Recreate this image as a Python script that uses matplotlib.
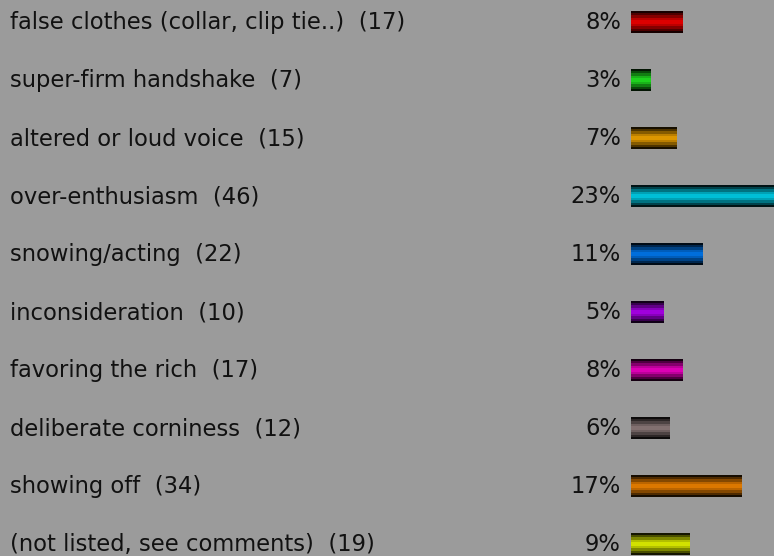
import numpy as np
import matplotlib.pyplot as plt
from matplotlib.colors import to_rgb

labels = [
    "false clothes (collar, clip tie..)",
    "super-firm handshake",
    "altered or loud voice",
    "over-enthusiasm",
    "snowing/acting",
    "inconsideration",
    "favoring the rich",
    "deliberate corniness",
    "showing off",
    "(not listed, see comments)",
]
counts = [17, 7, 15, 46, 22, 10, 17, 12, 34, 19]
percents = [8, 3, 7, 23, 11, 5, 8, 6, 17, 9]
colors = ["#dc0000", "#1ed21e", "#dc9600", "#00bed7", "#006edc",
          "#a000dc", "#dc00b4", "#827070", "#dc7800", "#d2e100"]

BG = "#9b9b9b"
W, H = 774, 556
fig = plt.figure(figsize=(W / 100, H / 100), dpi=100, facecolor=BG)

# bars live in an axes starting at x=631px; 6.5 px per percent
x0 = 631
ax = fig.add_axes([x0 / W, 0, 1 - x0 / W, 1])
ax.set_facecolor(BG)
ax.axis("off")
ax.set_xlim(0, (W - x0) / 6.5)
row = 58.0
ax.set_ylim((H - 22.5) / row, -22.5 / row)

# banded shading: dark edges, bright middle
profile = np.array([0.1, 0.35, 0.6, 0.85, 1.0, 1.0, 0.85, 0.6, 0.35, 0.1])
bar_h = 21.5 / row

for i, (pct, c) in enumerate(zip(percents, colors)):
    rgb = np.array(to_rgb(c))
    img = profile[:, None, None] * rgb[None, None, :]
    ax.imshow(img, extent=(0, pct, i + bar_h / 2, i - bar_h / 2),
              aspect="auto", interpolation="nearest", clip_on=True)

for i, (lab, n, pct) in enumerate(zip(labels, counts, percents)):
    yf = 1 - (22.5 + row * i) / H
    fig.text(10 / W, yf, f"{lab}  ({n})", fontsize=16.3, color="#111111",
             ha="left", va="center")
    fig.text(621 / W, yf, f"{pct}%", fontsize=16.3, color="#111111",
             ha="right", va="center")

fig.savefig("out.png", dpi=100, facecolor=BG)
